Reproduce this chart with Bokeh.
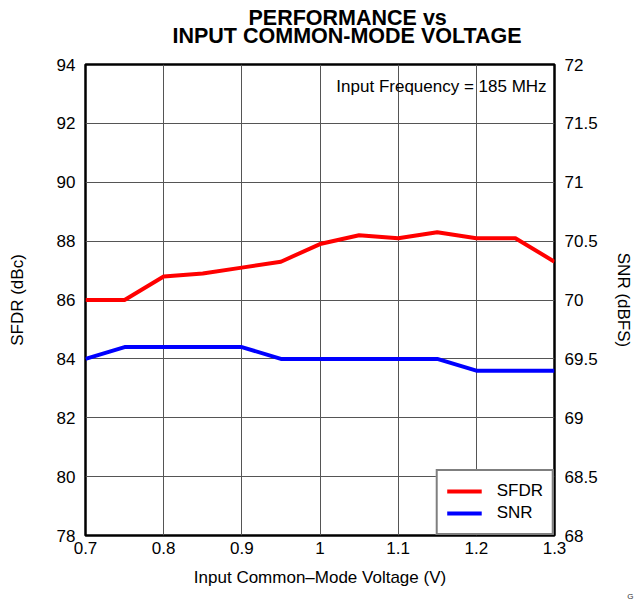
from bokeh.plotting import figure
from bokeh.models import Range1d, LinearAxis, FixedTicker, Label, Legend, LegendItem, Title
from bokeh.embed import file_html
from bokeh.resources import INLINE

# ---- data ----
voltage = [0.7, 0.75, 0.8, 0.85, 0.9, 0.95, 1.0, 1.05, 1.1, 1.15, 1.2, 1.25, 1.3]
sfdr = [86.0, 86.0, 86.8, 86.9, 87.1, 87.3, 87.9, 88.2, 88.1, 88.3, 88.1, 88.1, 87.3]
snr = [69.5, 69.6, 69.6, 69.6, 69.6, 69.5, 69.5, 69.5, 69.5, 69.5, 69.4, 69.4, 69.4]

x_ticks = [0.7, 0.8, 0.9, 1.0, 1.1, 1.2, 1.3]
x_tick_labels = ["0.7", "0.8", "0.9", "1", "1.1", "1.2", "1.3"]
sfdr_ticks = [78, 80, 82, 84, 86, 88, 90, 92, 94]
sfdr_tick_labels = ["78", "80", "82", "84", "86", "88", "90", "92", "94"]
snr_ticks = [68, 68.5, 69, 69.5, 70, 70.5, 71, 71.5, 72]
snr_tick_labels = ["68", "68.5", "69", "69.5", "70", "70.5", "71", "71.5", "72"]

title_lines = ["PERFORMANCE vs", "INPUT COMMON-MODE VOLTAGE"]
note_text = "Input Frequency = 185 MHz"
x_label = "Input Common\u2013Mode Voltage (V)"
y_label = "SFDR (dBc)"
y2_label = "SNR (dBFS)"
corner_text = "G"

FONT = "Liberation Sans"
FS = "17px"

p = figure(width=635, height=600, output_backend="svg", toolbar_location=None,
           x_range=Range1d(0.7, 1.3), y_range=Range1d(78, 94),
           min_border_left=85, min_border_right=79, min_border_top=64, min_border_bottom=64)
p.extra_y_ranges = {"snr": Range1d(68, 72)}

p.outline_line_color = "black"
p.outline_line_width = 2.5
p.background_fill_color = "white"
p.border_fill_color = "white"

def style_axis(ax, ticks, labels):
    ax.ticker = FixedTicker(ticks=ticks)
    ax.major_label_overrides = {t: l for t, l in zip(ticks, labels)}
    ax.major_tick_in = 0
    ax.major_tick_out = 0
    ax.minor_tick_in = 0
    ax.minor_tick_out = 0
    ax.axis_line_color = None
    ax.major_label_text_font = FONT
    ax.major_label_text_font_size = FS
    ax.major_label_text_color = "black"
    ax.axis_label_text_font = FONT
    ax.axis_label_text_font_size = FS
    ax.axis_label_text_font_style = "normal"
    ax.axis_label_text_color = "black"

style_axis(p.xaxis[0], x_ticks, x_tick_labels)
p.xaxis[0].axis_label = x_label
p.xaxis[0].major_label_standoff = 6
p.xaxis[0].axis_label_standoff = 11
style_axis(p.yaxis[0], sfdr_ticks, sfdr_tick_labels)
p.yaxis[0].axis_label = y_label
p.yaxis[0].major_label_standoff = 10
p.yaxis[0].axis_label_standoff = 27

ax2 = LinearAxis(y_range_name="snr", axis_label=y2_label)
style_axis(ax2, snr_ticks, snr_tick_labels)
ax2.major_label_standoff = 10
ax2.axis_label_standoff = 13
p.add_layout(ax2, "right")

p.xgrid.ticker = FixedTicker(ticks=x_ticks)
p.ygrid.ticker = FixedTicker(ticks=sfdr_ticks)
p.grid.grid_line_color = "#555555"
p.grid.grid_line_width = 1

r1 = p.line(voltage, sfdr, line_color="#ff0000", line_width=4)
r2 = p.line(voltage, snr, line_color="#0000ff", line_width=4, y_range_name="snr")

legend = Legend(items=[LegendItem(label="SFDR", renderers=[r1]),
                       LegendItem(label="SNR", renderers=[r2])],
                location="bottom_right", margin=0, padding=9, spacing=0,
                glyph_width=35, glyph_height=22, label_height=22, label_standoff=15,
                label_text_font=FONT, label_text_font_size=FS, label_text_color="black",
                border_line_color="black", border_line_width=2.5,
                background_fill_alpha=1.0)
p.add_layout(legend, "center")

p.add_layout(Label(x=1.2899, y=93.25, text=note_text, text_align="right",
                   text_baseline="middle", text_font=FONT, text_font_size=FS,
                   text_color="black"))

# two-line bold title (closest to the frame first)
t2 = Title(text=title_lines[1], align="left", offset=87, standoff=34,
           text_font=FONT, text_font_size="21.5px", text_font_style="bold", text_color="black")
t1 = Title(text=title_lines[0], align="left", offset=163, standoff=-50,
           text_font=FONT, text_font_size="21.5px", text_font_style="bold", text_color="black")
p.add_layout(t2, "above")
p.add_layout(t1, "above")

# small corner id text
tg = Title(text=corner_text, align="right", offset=-79, standoff=0,
           text_font=FONT, text_font_size="8px", text_font_style="normal", text_color="#333333")
p.add_layout(tg, "below")

open("out.html", "w").write(file_html(p, INLINE))
